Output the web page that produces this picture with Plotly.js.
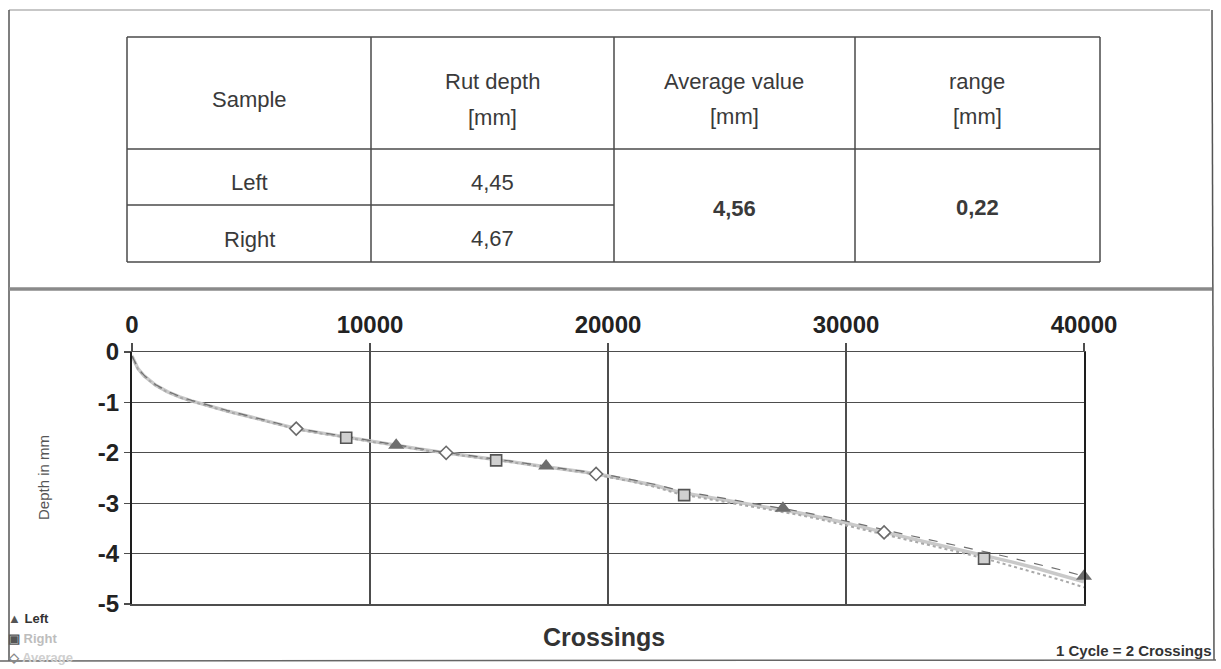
<!DOCTYPE html>
<html>
<head>
<meta charset="utf-8">
<script src="https://cdn.plot.ly/plotly-3.0.1.min.js"></script>
<style>
  html, body { margin: 0; padding: 0; background: #fff; }
  #chart { width: 1221px; height: 669px; }
</style>
</head>
<body>
<div id="chart"></div>
<script>
// ---- rut depth curves (depth in mm against wheel crossings) ----
const crossings = [0, 250, 500, 1000, 1500, 2000, 2500, 3000,
  4000, 5000, 6000, 7000, 8000, 9000, 10000, 11000, 12000, 13000, 14000, 15000,
  16000, 17000, 18000, 19000, 20000, 21000, 22000, 23000, 24000, 25000, 26000,
  27000, 28000, 29000, 30000, 31000, 32000, 33000, 34000, 35000, 36000, 37000,
  38000, 39000, 40000];

const depthLeft = [-0.08, -0.32, -0.46, -0.65, -0.78, -0.88, -0.96, -1.03,
  -1.16, -1.28, -1.40, -1.52, -1.60, -1.68, -1.76, -1.84, -1.91, -1.98, -2.04, -2.11,
  -2.17, -2.24, -2.30, -2.37, -2.44, -2.53, -2.63, -2.75, -2.83, -2.91, -2.99,
  -3.07, -3.16, -3.25, -3.35, -3.46, -3.57, -3.67, -3.77, -3.88, -3.98, -4.09,
  -4.20, -4.32, -4.45];

const depthRight = [-0.08, -0.34, -0.48, -0.67, -0.80, -0.90, -0.98, -1.05,
  -1.18, -1.30, -1.42, -1.54, -1.62, -1.70, -1.78, -1.86, -1.93, -2.00, -2.06, -2.13,
  -2.19, -2.26, -2.32, -2.39, -2.48, -2.57, -2.68, -2.82, -2.90, -2.98, -3.06,
  -3.14, -3.23, -3.33, -3.44, -3.56, -3.67, -3.78, -3.89, -4.00, -4.12, -4.25,
  -4.38, -4.52, -4.67];

const depthAverage = [-0.08, -0.33, -0.47, -0.66, -0.79, -0.89, -0.97, -1.04,
  -1.17, -1.29, -1.41, -1.53, -1.61, -1.69, -1.77, -1.85, -1.92, -1.99, -2.05, -2.12,
  -2.18, -2.25, -2.31, -2.38, -2.46, -2.55, -2.65, -2.78, -2.86, -2.94, -3.02,
  -3.10, -3.19, -3.29, -3.39, -3.51, -3.62, -3.72, -3.83, -3.94, -4.05, -4.17,
  -4.29, -4.42, -4.56];

// measuring points that carry a symbol
const markLeftX = [11100, 17400, 27350, 40000];
const markLeftY = [-1.85, -2.26, -3.10, -4.45];
const markRightX = [9000, 15300, 23200, 35800];
const markRightY = [-1.70, -2.15, -2.84, -4.10];
const markAverageX = [6900, 13200, 19500, 31600];
const markAverageY = [-1.52, -2.00, -2.42, -3.58];

// ---- summary table ----
const sampleNames = ['Left', 'Right'];
const rutDepth = [4.45, 4.67];
const averageValue = (rutDepth[0] + rutDepth[1]) / 2;
const rangeValue = Math.max(...rutDepth) - Math.min(...rutDepth);

// ---- axes ----
const xTicks = [0, 10000, 20000, 30000, 40000];
const yTicks = [0, -1, -2, -3, -4, -5];

// ---- page geometry (pixels) ----
const W = 1221, H = 669;
const M = { l: 132, r: 137, t: 352, b: 65 };
const PW = W - M.l - M.r, PH = H - M.t - M.b;
const X = px => (px - M.l) / PW;
const Y = py => (H - M.b - py) / PH;

const FONT = 'Liberation Sans, Arial, Helvetica, sans-serif';
const comma = v => v.toFixed(2).replace('.', ',');

function line(x0, y0, x1, y1, color, width) {
  return { type: 'line', xref: 'paper', yref: 'paper', layer: 'above',
    x0: X(x0), y0: Y(y0), x1: X(x1), y1: Y(y1),
    line: { color: color, width: width } };
}
function label(text, px, py, size, opts) {
  opts = opts || {};
  return Object.assign({ xref: 'paper', yref: 'paper', x: X(px), y: Y(py),
    text: text, showarrow: false, xanchor: 'center', yanchor: 'middle',
    font: { family: FONT, size: size, color: opts.color || '#3a3a3a', weight: opts.weight || 400 } },
    opts.extra || {});
}

// table grid
const tL = 127, tR = 1100, tT = 37, tB = 262;
const colX = [127, 371, 614, 855, 1100];
const rowHead = 149, rowMid = 205;
const tableColor = '#4a4a4a';

const shapes = [
  // outer frame
  line(9, 10, 1210, 10, '#b5b5b5', 1.5),
  line(9, 10, 9, 661, '#555', 1.5),
  line(1212, 10, 1214, 660, '#555', 1.5),
  line(0, 661, 1216, 660, '#666', 1.5),
  line(9, 289, 1212, 289, '#8a8a8a', 3.5),
  // table
  line(tL, tT, tR, tT, tableColor, 1.5),
  line(tL, tB, tR, tB, tableColor, 1.5),
  line(tL, rowHead, tR, rowHead, tableColor, 1.5),
  line(colX[0], rowMid, colX[2], rowMid, tableColor, 1.5),
];
colX.forEach(cx => shapes.push(line(cx, tT, cx, tB, tableColor, 1.5)));

const colC = [249, 492, 734, 977];
const annotations = [
  label('Sample', colC[0], 99, 22),
  label('Rut depth', colC[1], 82, 22),
  label('[mm]', colC[1], 117, 22),
  label('Average value', colC[2], 82, 22),
  label('[mm]', colC[2], 116, 22),
  label('range', colC[3], 82, 22),
  label('[mm]', colC[3], 116, 22),
  label(sampleNames[0], colC[0], 183, 22),
  label(comma(rutDepth[0]), colC[1], 182, 22),
  label(sampleNames[1], colC[0], 239, 22),
  label(comma(rutDepth[1]), colC[1], 238, 22),
  label(comma(averageValue), colC[2], 208, 22, { weight: 700 }),
  label(comma(rangeValue), colC[3], 207, 22, { weight: 700 }),
  // chart texts
  label('Depth in mm', 43, 478, 15, { color: '#555', extra: { textangle: -90 } }),
  label('Crossings', 604, 637, 25, { color: '#333', weight: 700 }),
  label('1 Cycle = 2 Crossings', 1214, 650, 15, { color: '#333', weight: 700, extra: { xanchor: 'right' } }),
  // legend
  label('<span style="color:#555">▲</span> Left', 6, 618, 13, { color: '#333', weight: 700, extra: { xanchor: 'left' } }),
  label('<span style="color:#555">▣</span> Right', 6, 638, 13, { color: '#bdbdbd', weight: 700, extra: { xanchor: 'left' } }),
  label('<span style="color:#888">◇</span> Average', 6, 657, 13, { color: '#cfcfcf', weight: 700, extra: { xanchor: 'left' } }),
];

const traces = [
  { x: crossings, y: depthAverage, mode: 'lines', name: 'Average',
    line: { color: '#c9c9c9', width: 3.5 }, hoverinfo: 'skip' },
  { x: crossings, y: depthRight, mode: 'lines', name: 'Right',
    line: { color: '#a9a9a9', width: 2, dash: 'dot' }, hoverinfo: 'skip' },
  { x: crossings, y: depthLeft, mode: 'lines', name: 'Left',
    line: { color: '#707070', width: 1.2, dash: 'dash' }, hoverinfo: 'skip' },
  { x: markAverageX, y: markAverageY, mode: 'markers', name: 'Average', cliponaxis: false,
    marker: { symbol: 'diamond', size: 10, color: '#fff', line: { color: '#6a6a6a', width: 1.6 } } },
  { x: markRightX, y: markRightY, mode: 'markers', name: 'Right', cliponaxis: false,
    marker: { symbol: 'square', size: 11, color: '#d0d0d0', line: { color: '#555', width: 1.6 } } },
  { x: markLeftX, y: markLeftY, mode: 'markers', name: 'Left', cliponaxis: false,
    marker: { symbol: 'triangle-up', size: 14, color: '#6e6e6e', line: { width: 0 } } },
];

const axisFont = { family: FONT, size: 24, color: '#222', weight: 700 };

const layout = {
  width: W, height: H,
  margin: M,
  paper_bgcolor: '#fff', plot_bgcolor: '#fff',
  showlegend: false,
  xaxis: {
    range: [0, 40000], side: 'top', tickvals: xTicks, ticktext: xTicks.map(String),
    showgrid: true, gridcolor: '#4d4d4d', gridwidth: 1.4,
    showline: true, linecolor: '#4d4d4d', linewidth: 1.5, mirror: true,
    ticks: 'outside', ticklen: 8, tickwidth: 1.4, tickcolor: '#4d4d4d',
    tickfont: axisFont, zeroline: false, fixedrange: true
  },
  yaxis: {
    range: [-5, 0], tickvals: yTicks, ticktext: yTicks.map(String),
    showgrid: true, gridcolor: '#4d4d4d', gridwidth: 1.4,
    showline: true, linecolor: '#1e1e1e', linewidth: 2, mirror: true,
    ticks: 'outside', ticklen: 6, tickwidth: 1.4, tickcolor: '#4d4d4d',
    tickfont: axisFont, zeroline: false, fixedrange: true
  },
  shapes: shapes,
  annotations: annotations
};

Plotly.newPlot('chart', traces, layout, { staticPlot: true, displayModeBar: false });
</script>
</body>
</html>
